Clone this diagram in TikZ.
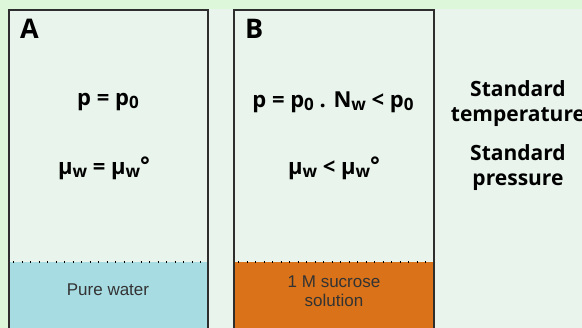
\documentclass[tikz,border=0pt]{standalone}
\usepackage{fontspec}
\setmainfont{Open Sans}
\newfontfamily\arialf{Liberation Sans}
\definecolor{outerbg}{HTML}{DCF7DA}
\definecolor{innerbg}{HTML}{E9F4EC}
\definecolor{water}{HTML}{A8DCE3}
\definecolor{sucrose}{HTML}{D97218}
\definecolor{edge}{HTML}{2E2E2E}
\newcommand{\sbx}[1]{\raisebox{-0.28ex}{\fontsize{17}{17}\selectfont #1}}
\newcommand{\dg}{\raisebox{0.1ex}{\fontsize{23}{23}\selectfont °}}
\begin{document}
\begin{tikzpicture}[x=1pt,y=-1pt,
  formula/.style={font=\bfseries\fontsize{22}{26}\selectfont, text=black, inner sep=0pt},
  letter/.style={font=\bfseries\fontsize{27}{30}\selectfont, text=black, inner sep=0pt, anchor=north west},
  liquidlabel/.style={font=\arialf\fontsize{17}{19}\selectfont, text=black!80, inner sep=0pt, align=center},
  sidetext/.style={font=\bfseries\fontsize{21}{25}\selectfont, text=black, inner sep=0pt, align=center},
  vessel/.style={draw=edge, line width=1.5pt},
  surface/.style={draw=black, line width=2pt, dash pattern=on 1.4pt off 7.1pt}]
\useasboundingbox (0,0) rectangle (582,328);
\fill[outerbg] (0,0) rectangle (582,328);
\fill[innerbg] (8,9) rectangle (582,328);
% liquids
\fill[water] (9,262) rectangle (208,330);
\fill[sucrose] (234,262) rectangle (434,330);
\coordinate (As) at (13,262); \coordinate (Ae) at (208,262);
\coordinate (Bs) at (238,262); \coordinate (Be) at (434,262);
\draw[surface] (As) -- (Ae);
\draw[surface] (Bs) -- (Be);
% vessels
\coordinate (A1) at (9,330); \coordinate (A2) at (9,10); \coordinate (A3) at (208,10); \coordinate (A4) at (208,330);
\coordinate (B1) at (234,330); \coordinate (B2) at (234,10); \coordinate (B3) at (434,10); \coordinate (B4) at (434,330);
\draw[vessel] (A1) -- (A2) -- (A3) -- (A4);
\draw[vessel] (B1) -- (B2) -- (B3) -- (B4);
% labels
\node[letter] (la) at (20,19) {A};
\node[letter] (lb) at (245,19) {B};
\node[formula] (pa) at (108,102) {p = p\sbx{0}};
\node[formula] (ma) at (104,168) {μ\sbx{w} = μ\sbx{w}\dg};
\node[formula] (pb) at (333,102) {p = p\sbx{0} . N\sbx{w} < p\sbx{0}};
\node[formula] (mb) at (334,168) {μ\sbx{w} < μ\sbx{w}\dg};
\node[liquidlabel] (pw) at (108,290) {Pure water};
\node[liquidlabel] (su) at (334,291) {1 M sucrose\\solution};
\node[sidetext] (st) at (518,104) {Standard\\temperature};
\node[sidetext] (sp) at (518,168) {Standard\\pressure};
\end{tikzpicture}
\end{document}
